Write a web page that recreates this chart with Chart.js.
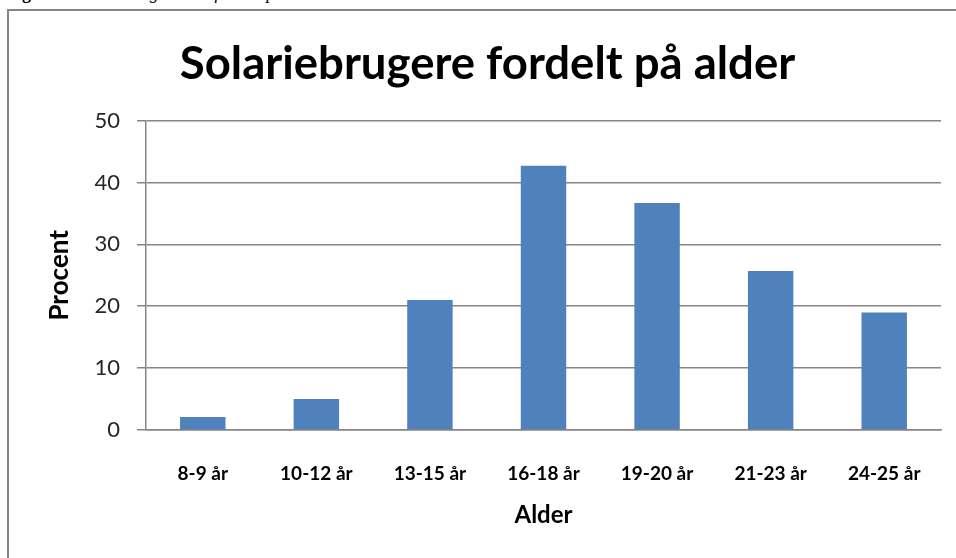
<!DOCTYPE html>
<html lang="da">
<head>
    <meta charset="UTF-8">
    <title>Solariebrugere fordelt på alder</title>
    <script src="https://cdn.jsdelivr.net/npm/chart.js"></script>
    <style>
        html, body { margin: 0; padding: 0; background: #fff; overflow: hidden; }
        body { width: 956px; height: 558px; position: relative; }
        #caption {
            position: absolute; left: 6px; top: -17px;
            font-family: "Liberation Serif", serif; font-size: 18px; white-space: nowrap;
        }
        #frame {
            position: absolute; left: 7px; top: 9px; width: 1000px; height: 600px;
            border-left: 2px solid #858585; border-top: 2px solid #858585;
        }
        #wrap { position: absolute; left: 0; top: 0; width: 956px; height: 558px; }
    </style>
</head>
<body>
    <div id="caption"><b>Figur 1:</b> <i>Solariebrugere i % fordelt på alder.</i></div>
    <div id="frame"></div>
    <div id="wrap"><canvas id="myChart"></canvas></div>
    <script>
        const labels = ['8-9 år', '10-12 år', '13-15 år', '16-18 år', '19-20 år', '21-23 år', '24-25 år'];
        const procent = [2.1, 5, 21, 42.7, 36.7, 25.7, 19];
        const yTicks = [0, 10, 20, 30, 40, 50];

        const ctx = document.getElementById('myChart').getContext('2d');
        const myChart = new Chart(ctx, {
            type: 'bar',
            data: {
                labels: labels,
                datasets: [
                    {
                        label: 'Procent',
                        data: procent,
                        backgroundColor: '#4F81BD',
                        barPercentage: 0.4,
                        categoryPercentage: 1
                    }
                ]
            },
            options: {
                responsive: true,
                maintainAspectRatio: false,
                animation: false,
                // left padding pushes the title centre right, y axis width makes up for it
                layout: { padding: { top: 0, right: 15, bottom: 0, left: 34 } },
                plugins: {
                    legend: { display: false },
                    tooltip: { enabled: false },
                    title: {
                        display: true,
                        text: 'Solariebrugere fordelt på alder',
                        color: '#000',
                        font: { family: 'Lato', size: 45.5, weight: 'bold' },
                        padding: { top: 37, bottom: 29 }
                    }
                },
                scales: {
                    x: {
                        grid: { display: false },
                        border: { display: true, color: '#868686', width: 1.5 },
                        ticks: {
                            color: '#000',
                            font: { family: 'Lato', size: 19, weight: 'bold' },
                            padding: 24,
                            maxRotation: 0
                        },
                        title: {
                            display: true,
                            text: 'Alder',
                            color: '#000',
                            font: { family: 'Lato', size: 24, weight: 'bold' },
                            padding: { top: 0, bottom: 28 }
                        },
                        afterFit: function (scale) { scale.height = 128; }
                    },
                    y: {
                        min: 0,
                        max: 50,
                        afterBuildTicks: function (scale) {
                            scale.ticks = yTicks.map(v => ({ value: v }));
                        },
                        grid: { color: '#868686', lineWidth: 1.5, tickLength: 9 },
                        border: { display: true, color: '#868686', width: 1.5 },
                        ticks: {
                            color: '#262626',
                            font: { family: 'Lato', size: 22 },
                            padding: 17
                        },
                        title: {
                            display: true,
                            text: 'Procent',
                            color: '#000',
                            font: { family: 'Lato', size: 26, weight: 'bold' },
                            padding: { top: 10, bottom: 0 }
                        },
                        afterFit: function (scale) { scale.width = 112; }
                    }
                }
            }
        });
    </script>
</body>
</html>
